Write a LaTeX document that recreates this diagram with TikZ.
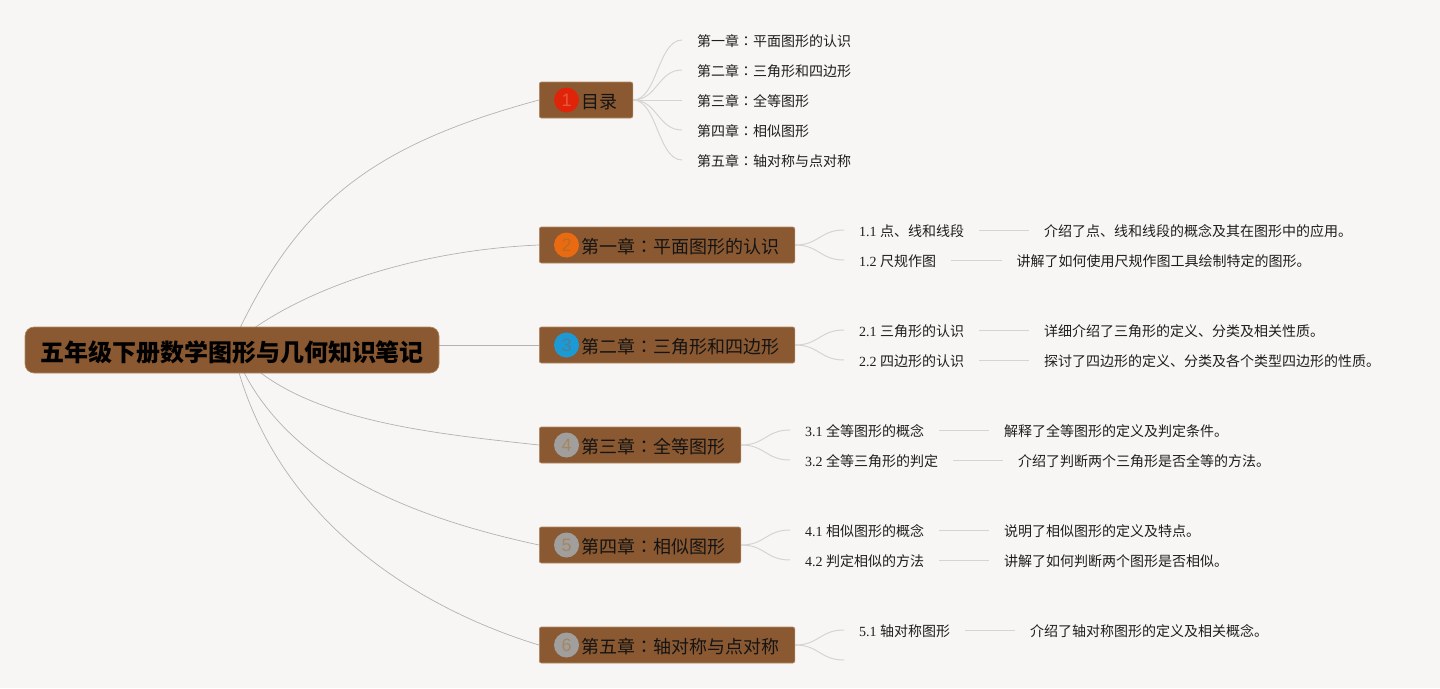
\documentclass[tikz,border=0pt]{standalone}
\usepackage{fontspec}
\setmainfont{Noto Sans CJK SC}
\newfontfamily\latinf{Liberation Serif}
\newfontfamily\digitf{Liberation Sans}
\newfontfamily\tcf{Noto Sans CJK TC}
\newcommand{\cc}{{\tcf ：}}
\newcommand{\nm}[1]{{\latinf #1 }}
\pgfdeclarelayer{edges}
\pgfsetlayers{edges,main}
\definecolor{bgc}{HTML}{F8F6F4}
\definecolor{brownc}{HTML}{8A5931}
\definecolor{brownl}{HTML}{B08A62}
\definecolor{linkc}{HTML}{D6D4D1}
\definecolor{mainc}{HTML}{B4B2AF}
\definecolor{leaft}{HTML}{1E1E1E}
\definecolor{ba}{HTML}{E0240A}\definecolor{bad}{HTML}{E8583A}
\definecolor{bb}{HTML}{EA6A12}\definecolor{bbd}{HTML}{BC6C22}
\definecolor{bc}{HTML}{1C9AD6}\definecolor{bcd}{HTML}{4F7F92}
\definecolor{bd}{HTML}{A09F9E}\definecolor{bdd}{HTML}{A58660}
\tikzset{
  x=1pt,y=-1pt,
  rootbox/.style={draw=brownl,line width=.6pt,fill=brownc,rounded corners=9pt,minimum width=414pt,minimum height=46pt,inner sep=0pt,font=\fontsize{24}{28}\selectfont\bfseries,text=black,text height=23pt,text depth=1pt},
  chapbox/.style={draw=brownl,line width=.6pt,fill=brownc,rounded corners=2pt,minimum height=36pt,inner xsep=15.5pt,inner ysep=0pt,anchor=west,font=\fontsize{18}{22}\selectfont,text=black!92,text height=18pt,text depth=1.4pt},
  badge/.style={circle,minimum size=25pt,inner sep=0pt,font=\digitf\fontsize{18}{20}\selectfont},
  leafbox/.style={inner xsep=15pt,inner ysep=0pt,anchor=west,font=\fontsize{14}{18}\selectfont,text=leaft,text height=13pt,text depth=1pt},
  link/.style={draw=linkc,line width=1pt},
  mainlink/.style={draw=mainc,line width=.7pt},
}
\begin{document}
\begin{tikzpicture}
\useasboundingbox (0,0) rectangle (1440,688);
\begin{pgfonlayer}{edges}
\fill[bgc] (0,0) rectangle (1440,688);
\end{pgfonlayer}
\node[rootbox] (root) at (232,350) {五年级下册数学图形与几何知识笔记};
\node[chapbox] (c1) at (539,100) {\hspace*{26.5pt}目录};
\node[chapbox] (c2) at (539,245) {\hspace*{26.5pt}第一章\cc 平面图形的认识};
\node[chapbox] (c3) at (539,345) {\hspace*{26.5pt}第二章\cc 三角形和四边形};
\node[chapbox] (c4) at (539,445) {\hspace*{26.5pt}第三章\cc 全等图形};
\node[chapbox] (c5) at (539,545) {\hspace*{26.5pt}第四章\cc 相似图形};
\node[chapbox] (c6) at (539,645) {\hspace*{26.5pt}第五章\cc 轴对称与点对称};
\node[badge,fill=ba,text=bad] (b1) at (566.5,100) {1};
\node[badge,fill=bb,text=bbd] (b2) at (566.5,245) {2};
\node[badge,fill=bc,text=bcd] (b3) at (566.5,345) {3};
\node[badge,fill=bd,text=bdd] (b4) at (566.5,445) {4};
\node[badge,fill=bd,text=bdd] (b5) at (566.5,545) {5};
\node[badge,fill=bd,text=bdd] (b6) at (566.5,645) {6};
% directory leaves
\node[leafbox] (t1) at (682,40) {第一章\cc 平面图形的认识};
\node[leafbox] (t2) at (682,70) {第二章\cc 三角形和四边形};
\node[leafbox] (t3) at (682,100) {第三章\cc 全等图形};
\node[leafbox] (t4) at (682,130) {第四章\cc 相似图形};
\node[leafbox] (t5) at (682,160) {第五章\cc 轴对称与点对称};
% sections
\node[leafbox] (s11) at (844,230) {\nm{1.1}点、线和线段};
\node[leafbox] (d11) at (1029,230) {介绍了点、线和线段的概念及其在图形中的应用。};
\node[leafbox] (s12) at (844,260) {\nm{1.2}尺规作图};
\node[leafbox] (d12) at (1001.5,260) {讲解了如何使用尺规作图工具绘制特定的图形。};
\node[leafbox] (s21) at (844,330) {\nm{2.1}三角形的认识};
\node[leafbox] (d21) at (1029,330) {详细介绍了三角形的定义、分类及相关性质。};
\node[leafbox] (s22) at (844,360) {\nm{2.2}四边形的认识};
\node[leafbox] (d22) at (1029,360) {探讨了四边形的定义、分类及各个类型四边形的性质。};
\node[leafbox] (s31) at (790,430) {\nm{3.1}全等图形的概念};
\node[leafbox] (d31) at (989,430) {解释了全等图形的定义及判定条件。};
\node[leafbox] (s32) at (790,460) {\nm{3.2}全等三角形的判定};
\node[leafbox] (d32) at (1003,460) {介绍了判断两个三角形是否全等的方法。};
\node[leafbox] (s41) at (790,530) {\nm{4.1}相似图形的概念};
\node[leafbox] (d41) at (989,530) {说明了相似图形的定义及特点。};
\node[leafbox] (s42) at (790,560) {\nm{4.2}判定相似的方法};
\node[leafbox] (d42) at (989,560) {讲解了如何判断两个图形是否相似。};
\node[leafbox] (s51) at (844,630) {\nm{5.1}轴对称图形};
\node[leafbox] (d51) at (1015,630) {介绍了轴对称图形的定义及相关概念。};
\coordinate (s52) at (844,660);
\begin{pgfonlayer}{edges}
\coordinate (hub) at (root.center |- c3.west);
\draw[mainlink] (hub) .. controls (296,205) and (369,146) .. (c1.west);
\draw[mainlink] (hub) .. controls (300,287) and (420,250) .. (c2.west);
\draw[mainlink] (hub) -- (c3.west);
\draw[mainlink] (hub) .. controls (290,420) and (430,433) .. (c4.west);
\draw[mainlink] (hub) .. controls (275,465) and (409,517) .. (c5.west);
\draw[mainlink] (hub) .. controls (268,515) and (414,607) .. (c6.west);
\foreach \a/\b in {c1/t1,c1/t2,c1/t3,c1/t4,c1/t5,c2/s11,c2/s12,c3/s21,c3/s22,c4/s31,c4/s32,c5/s41,c5/s42,c6/s51}
  \draw[link] (\a.east) .. controls +(24,0) and +(-24,0) .. (\b.west);
\draw[link] (c6.east) .. controls +(24,0) and +(-24,0) .. (s52);
\foreach \a/\b in {s11/d11,s12/d12,s21/d21,s22/d22,s31/d31,s32/d32,s41/d41,s42/d42,s51/d51}
  \draw[link] (\a.east) -- (\b.west);
\end{pgfonlayer}
\end{tikzpicture}
\end{document}
